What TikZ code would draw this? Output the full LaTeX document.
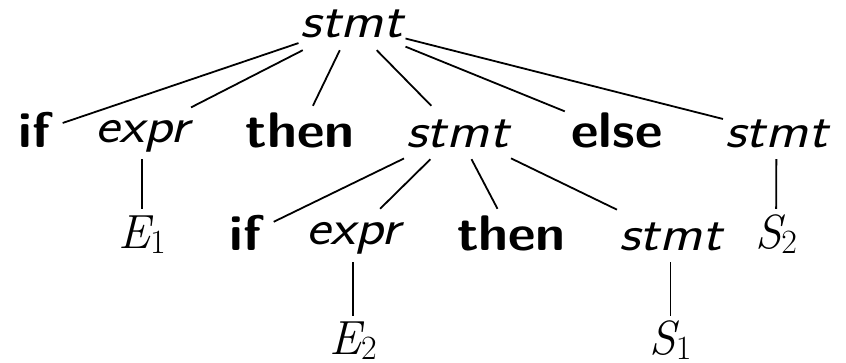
\documentclass[tikz,border=0pt]{standalone}
\usepackage{graphicx}
\newcommand\msym[2]{{\rmfamily\itshape #1}\raisebox{-0.12em}{\fontsize{34}{40}\selectfont\rmfamily\upshape #2}}
\newcommand\wide[1]{\scalebox{1.07}[1]{#1}}
\newcommand\wider[1]{\scalebox{1.15}[1]{#1}}
\begin{document}
\begin{tikzpicture}[x=1pt,y=-1pt,
  tn/.style={anchor=base, inner xsep=2pt, inner ysep=0pt, text height=41pt, text depth=12pt},
  kw/.style={tn, font=\fontsize{50}{60}\selectfont\sffamily\bfseries},
  nt/.style={tn, font=\fontsize{50}{60}\selectfont\sffamily\slshape},
  ms/.style={tn, font=\fontsize{48}{56}\selectfont},
  edge/.style={line width=1.8pt}]
\useasboundingbox (0,0) rectangle (846,362);
% root
\node[nt, text height=37pt, text depth=13pt] (root) at (352,37) {\wider{stmt}};
% level 1
\node[kw, minimum width=56pt] (if1) at (34.5,147) {\wide{if}};
\node[nt] (expr1) at (142,147) {\raisebox{5pt}{\wider{expr}}};
\node[kw] (then1) at (300,147) {\wide{then}};
\node[nt] (stmt1) at (457.5,147) {\wider{stmt}};
\node[kw, minimum width=104pt] (else1) at (617,147) {\wide{else}};
\node[nt] (stmt3) at (776.5,147) {\wider{stmt}};
% level 2
\node[ms] (e1) at (142,250) {\raisebox{2pt}{\msym{E}{1}}};
\node[kw, minimum width=56pt] (if2) at (245.5,250) {\wide{if}};
\node[nt] (expr2) at (353,250) {\raisebox{6pt}{\wider{expr}}};
\node[kw] (then2) at (511.5,250) {\wide{then}};
\node[nt] (stmt2) at (670.5,250) {\wider{stmt}};
\node[ms] (s2) at (776,250) {\raisebox{2pt}{\msym{S}{2}}};
% level 3
\node[ms] (e2) at (353,357) {\raisebox{3pt}{\msym{E}{2}}};
\node[ms] (s1) at (670.5,357) {\raisebox{3pt}{\msym{S}{1}}};
% edges
\draw[edge] (root) -- (if1);
\draw[edge] (root) -- (expr1);
\draw[edge] (root) -- (then1);
\draw[edge] (root) -- (stmt1);
\draw[edge] (root) -- (else1);
\draw[edge] (root) -- (stmt3);
\draw[edge] (expr1) -- (e1);
\draw[edge] (stmt1) -- (if2);
\draw[edge] (stmt1) -- (expr2);
\draw[edge] (stmt1) -- (then2);
\draw[edge] (stmt1) -- (stmt2);
\draw[edge] (stmt3) -- (s2);
\draw[edge] (expr2) -- (e2);
\draw[edge] (stmt2) -- (s1);
\end{tikzpicture}
\end{document}
